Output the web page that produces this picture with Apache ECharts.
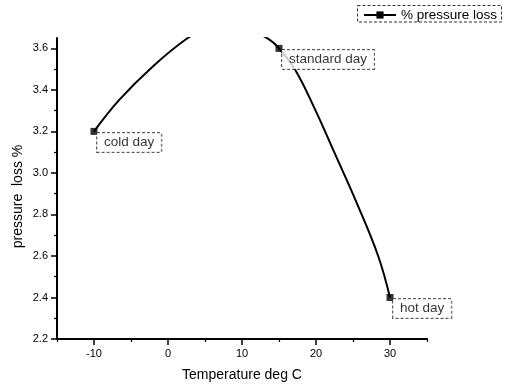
<!DOCTYPE html>
<html><head><meta charset="utf-8">
<script src="https://cdn.jsdelivr.net/npm/echarts@6/dist/echarts.min.js"></script>
<style>html,body{margin:0;padding:0;background:#fff}#c{width:507px;height:387px}</style>
</head><body><div id="c"></div>
<script>
// traced curve (the part above 3.65 is estimated and clipped)
const curveX = [-10, -6.59, -2.09, 2.39, 5, 8, 11, 13.8, 15, 17.2, 19.9, 22.4, 25.5, 28.4, 30];
const curveY = [3.2, 3.352, 3.512, 3.643, 3.69, 3.71, 3.69, 3.64, 3.6, 3.496, 3.304, 3.105, 2.856, 2.60, 2.4];
// marked points
const pointX = [-10, 15, 30];
const pointY = [3.2, 3.6, 2.4];
const pointNames = ['cold day', 'standard day', 'hot day'];
// ticks
const xMajorTicks = [-10, 0, 10, 20, 30];
const xMinorTicks = [-15, -5, 5, 15, 25, 35];
const yMajorTicks = [2.2, 2.4, 2.6, 2.8, 3.0, 3.2, 3.4, 3.6];
const yMinorTicks = [2.3, 2.5, 2.7, 2.9, 3.1, 3.3, 3.5];
const seriesName = '% pressure loss';
const xName = 'Temperature deg C';
const yName = 'pressure  loss %';

const FONT = '"Liberation Sans", Arial, sans-serif';
const chart = echarts.init(document.getElementById('c'), null, {renderer: 'canvas'});
const axisLineStyle = {color: '#000', width: 2};
chart.setOption({
  backgroundColor: '#fff',
  animation: false,
  grid: {left: 57, right: 80, top: 38, bottom: 47},
  legend: {
    data: [seriesName], left: 363, top: 8, padding: 0,
    itemWidth: 32, itemHeight: 9, selectedMode: false,
    textStyle: {fontSize: 13.5, color: '#000', fontFamily: FONT}
  },
  graphic: [{
    type: 'rect', shape: {x: 357.5, y: 5.5, width: 144, height: 16.5},
    style: {fill: null, stroke: '#333', lineWidth: 1, lineDash: [3, 2]}, silent: true, z: 10
  }],
  xAxis: [{
    type: 'value', min: -15, max: 35, position: 'bottom',
    name: xName, nameLocation: 'middle', nameGap: 29,
    nameTextStyle: {fontSize: 14, color: '#000', fontFamily: FONT},
    axisLine: {show: true, onZero: false, lineStyle: axisLineStyle},
    axisTick: {show: true, inside: false, length: 6, customValues: xMajorTicks, lineStyle: {color: '#000', width: 1.5}},
    axisLabel: {show: true, margin: 9, fontSize: 11, color: '#000', fontFamily: FONT, customValues: xMajorTicks},
    splitLine: {show: false}
  }, {
    type: 'value', min: -15, max: 35, position: 'bottom',
    axisLine: {show: false, onZero: false},
    axisTick: {show: true, inside: false, length: 3, customValues: xMinorTicks, lineStyle: {color: '#000', width: 1.2}},
    axisLabel: {show: false},
    splitLine: {show: false}
  }],
  yAxis: [{
    type: 'value', min: 2.2, max: 3.65, position: 'left',
    name: yName, nameLocation: 'middle', nameGap: 32, nameRotate: 90, nameMoveOverlap: false,
    nameTextStyle: {fontSize: 14, color: '#000', fontFamily: FONT, padding: [0, 16, 0, 0]},
    axisLine: {show: true, onZero: false, lineStyle: axisLineStyle},
    axisTick: {show: true, inside: false, length: 6, customValues: yMajorTicks, lineStyle: {color: '#000', width: 1.5}},
    axisLabel: {show: true, margin: 9, fontSize: 11, color: '#000', fontFamily: FONT, customValues: yMajorTicks,
      formatter: v => Number(v).toFixed(1)},
    splitLine: {show: false}
  }, {
    type: 'value', min: 2.2, max: 3.65, position: 'left',
    axisLine: {show: false, onZero: false},
    axisTick: {show: true, inside: false, length: 3, customValues: yMinorTicks, lineStyle: {color: '#000', width: 1.2}},
    axisLabel: {show: false},
    splitLine: {show: false}
  }],
  series: [{
    name: seriesName, type: 'line', xAxisIndex: 0, yAxisIndex: 0,
    data: curveX.map((x, i) => [x, curveY[i]]),
    smooth: 0.4, showSymbol: false, symbol: 'rect', symbolSize: 7, clip: true,
    color: '#000', lineStyle: {color: '#000', width: 2}, itemStyle: {color: '#000'}
  }, {
    name: 'points', type: 'scatter', xAxisIndex: 0, yAxisIndex: 0,
    data: pointX.map((x, i) => ({name: pointNames[i], value: [x, pointY[i]]})),
    symbol: 'rect', symbolSize: 7, itemStyle: {color: '#000'}, z: 5,
    label: {
      show: true, formatter: p => p.name, position: [6.5, 5], align: 'left', verticalAlign: 'top',
      fontSize: 13.5, color: '#000', fontFamily: FONT, lineHeight: 15,
      padding: [2, 7, 2, 7], backgroundColor: '#fff',
      borderColor: '#333', borderWidth: 1, borderType: [3, 2]
    }
  }]
});
</script></body></html>
